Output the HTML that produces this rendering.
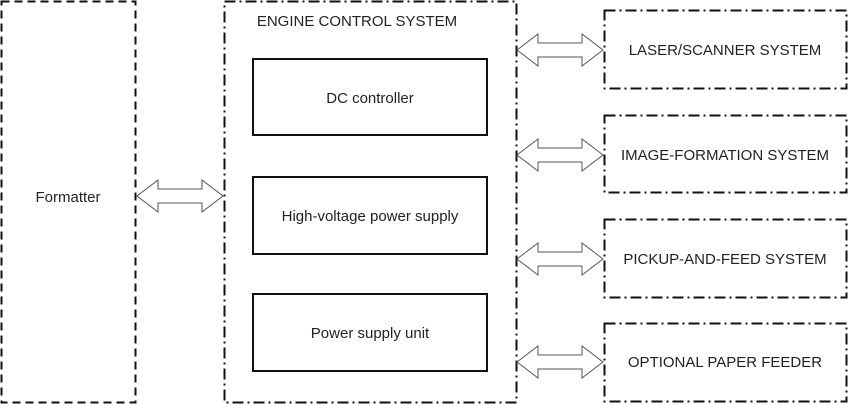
<html><body style="margin:0;background:#fff">
<svg width="849" height="405" xmlns="http://www.w3.org/2000/svg" style="font-family:'Liberation Sans',sans-serif">
<defs>
<g id="ar"><path d="M0,0 L21,-16 L21,-7 L65,-7 L65,-16 L86,0 L65,16 L65,7 L21,7 L21,16 Z" fill="#fff" stroke="#555" stroke-width="1"/></g>
</defs>
<rect x="1.5" y="1.5" width="134" height="401" fill="none" stroke="#111" stroke-width="2" stroke-dasharray="8,5"/>
<rect x="224.5" y="1.5" width="292" height="401" fill="none" stroke="#111" stroke-width="2" stroke-dasharray="11,4,2,4"/>
<g fill="none" stroke="#111" stroke-width="2" stroke-dasharray="11,4,2,4">
<rect x="604.5" y="10.5" width="242" height="78"/>
<rect x="604.5" y="115.5" width="242" height="77"/>
<rect x="604.5" y="219.5" width="242" height="78"/>
<rect x="604.5" y="323.5" width="242" height="78"/>
</g>
<g fill="none" stroke="#111" stroke-width="2">
<rect x="253" y="59" width="234" height="76"/>
<rect x="253" y="177" width="234" height="77"/>
<rect x="253" y="294" width="234" height="77"/>
</g>
<use href="#ar" x="137" y="196"/>
<use href="#ar" x="517" y="50"/>
<use href="#ar" x="517" y="155"/>
<use href="#ar" x="517" y="259"/>
<use href="#ar" x="517" y="362"/>
<g font-size="15" fill="#222" text-anchor="middle">
<text x="68" y="202">Formatter</text>
<text x="357" y="26">ENGINE CONTROL SYSTEM</text>
<text x="370" y="103">DC controller</text>
<text x="370" y="221">High-voltage power supply</text>
<text x="370" y="338">Power supply unit</text>
<text x="725" y="55">LASER/SCANNER SYSTEM</text>
<text x="725" y="160">IMAGE-FORMATION SYSTEM</text>
<text x="725" y="264">PICKUP-AND-FEED SYSTEM</text>
<text x="725" y="367">OPTIONAL PAPER FEEDER</text>
</g>
</svg>
</body></html>
